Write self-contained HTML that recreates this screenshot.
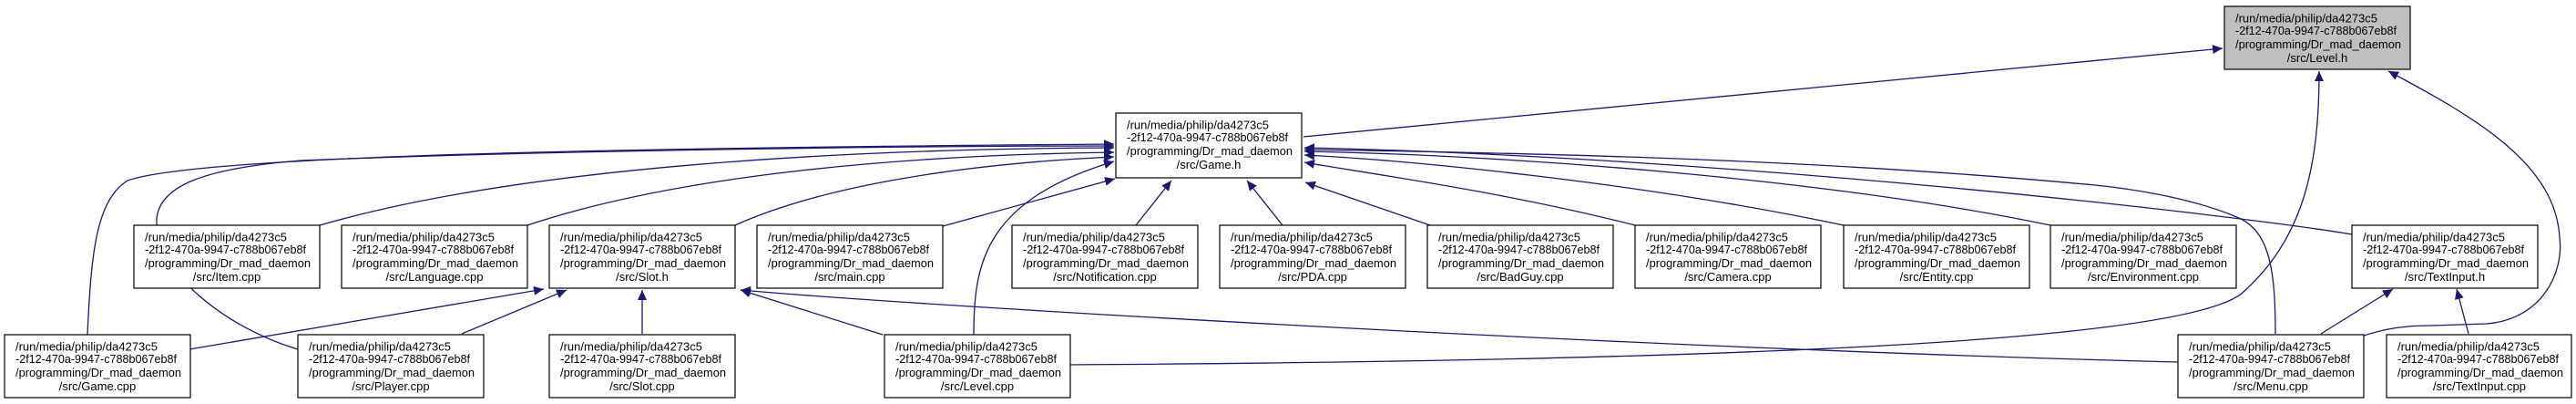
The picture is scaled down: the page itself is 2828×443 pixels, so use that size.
<!DOCTYPE html>
<html><head><meta charset="utf-8"><style>
html,body{margin:0;padding:0;background:#fff;}
svg{display:block;}
text{font-family:"Liberation Sans",sans-serif;font-size:13px;fill:#000;}
.e{fill:none;stroke:#191970;stroke-width:1.3;}
.b{fill:#fff;stroke:#000;stroke-width:1.2;}
</style></head><body>
<svg width="2828" height="443" viewBox="0 0 2828 443" xmlns="http://www.w3.org/2000/svg">
<defs>
<marker id="a" markerUnits="userSpaceOnUse" markerWidth="12" markerHeight="10" refX="11" refY="5" orient="auto">
<path d="M0,0 L11,5 L0,10 z" fill="#191970"/>
</marker>
</defs>
<g class="e" marker-end="url(#a)">
<path d="M351,247 C600,175 1000,163 1223,162"/>
<path d="M579,247 C750,190 1000,170 1223,167"/>
<path d="M807,247 C900,205 1050,180 1223,172"/>
<path d="M1035,248 L1224,196"/>
<path d="M1247,247 L1286,198"/>
<path d="M1408,247 L1369,198"/>
<path d="M1570,247 L1433,200"/>
<path d="M1795,247 C1650,210 1500,190 1432,178"/>
<path d="M2024,247 C1800,200 1550,176 1432,170"/>
<path d="M2251,247 C2000,195 1650,170 1432,166"/>
<path d="M2582,257 C2450,235 1900,172 1432,162"/>
<path d="M2498,366 C2498,290 2490,250 2453,237 C2400,215 2330,206 2300,203 C2000,175 1700,168 1432,164"/>
<path d="M1069,367 C1069,290 1080,220 1223,177"/>
<path d="M96,367 C100,280 105,220 140,198 C220,170 700,162 1223,158"/>
<path d="M327,383 C250,360 170,300 172,240 C175,205 220,185 330,176 C600,165 1000,160 1223,160"/>
<path d="M1431,150 L2440,53"/>
<path d="M208,383 L597,317"/>
<path d="M507,366 L622,318"/>
<path d="M705,366 L705,318"/>
<path d="M969,367 L813,318"/>
<path d="M2391,397 C1800,382 1000,335 813,318"/>
<path d="M2548,366 L2627,317"/>
<path d="M2710,366 L2697,317"/>
<path d="M1175,400 C1800,396 2400,380 2463,320 C2530,260 2546,180 2546,78"/>
<path d="M2595,368 C2620,360 2640,357 2670,357 L2730,355 C2790,350 2815,300 2810,260 C2805,180 2720,130 2622,78"/>
</g>

<rect x="2442" y="7" width="204" height="69" fill="#bfbfbf" stroke="#000" stroke-width="1.2"/>
<text x="2454" y="24.5" textLength="156" lengthAdjust="spacingAndGlyphs">/run/media/philip/da4273c5</text>
<text x="2454" y="38" textLength="177" lengthAdjust="spacingAndGlyphs">-2f12-470a-9947-c788b067eb8f</text>
<text x="2454" y="53" textLength="182" lengthAdjust="spacingAndGlyphs">/programming/Dr_mad_daemon</text>
<text x="2544" y="68" text-anchor="middle">/src/Level.h</text>

<rect class="b" x="1225" y="124" width="204" height="71"/>
<text x="1237" y="141.5" textLength="156" lengthAdjust="spacingAndGlyphs">/run/media/philip/da4273c5</text>
<text x="1237" y="155" textLength="177" lengthAdjust="spacingAndGlyphs">-2f12-470a-9947-c788b067eb8f</text>
<text x="1237" y="170" textLength="182" lengthAdjust="spacingAndGlyphs">/programming/Dr_mad_daemon</text>
<text x="1327" y="185" text-anchor="middle">/src/Game.h</text>

<g>
<rect class="b" x="147" y="247" width="204" height="69"/>
<text x="159" y="264.5" textLength="156" lengthAdjust="spacingAndGlyphs">/run/media/philip/da4273c5</text>
<text x="159" y="278" textLength="177" lengthAdjust="spacingAndGlyphs">-2f12-470a-9947-c788b067eb8f</text>
<text x="159" y="293" textLength="182" lengthAdjust="spacingAndGlyphs">/programming/Dr_mad_daemon</text>
<text x="249" y="308" text-anchor="middle">/src/Item.cpp</text>

<rect class="b" x="375" y="247" width="204" height="69"/>
<text x="387" y="264.5" textLength="156" lengthAdjust="spacingAndGlyphs">/run/media/philip/da4273c5</text>
<text x="387" y="278" textLength="177" lengthAdjust="spacingAndGlyphs">-2f12-470a-9947-c788b067eb8f</text>
<text x="387" y="293" textLength="182" lengthAdjust="spacingAndGlyphs">/programming/Dr_mad_daemon</text>
<text x="477" y="308" text-anchor="middle">/src/Language.cpp</text>

<rect class="b" x="603" y="247" width="204" height="69"/>
<text x="615" y="264.5" textLength="156" lengthAdjust="spacingAndGlyphs">/run/media/philip/da4273c5</text>
<text x="615" y="278" textLength="177" lengthAdjust="spacingAndGlyphs">-2f12-470a-9947-c788b067eb8f</text>
<text x="615" y="293" textLength="182" lengthAdjust="spacingAndGlyphs">/programming/Dr_mad_daemon</text>
<text x="705" y="308" text-anchor="middle">/src/Slot.h</text>

<rect class="b" x="831" y="247" width="204" height="69"/>
<text x="843" y="264.5" textLength="156" lengthAdjust="spacingAndGlyphs">/run/media/philip/da4273c5</text>
<text x="843" y="278" textLength="177" lengthAdjust="spacingAndGlyphs">-2f12-470a-9947-c788b067eb8f</text>
<text x="843" y="293" textLength="182" lengthAdjust="spacingAndGlyphs">/programming/Dr_mad_daemon</text>
<text x="933" y="308" text-anchor="middle">/src/main.cpp</text>

<rect class="b" x="1111" y="247" width="204" height="69"/>
<text x="1123" y="264.5" textLength="156" lengthAdjust="spacingAndGlyphs">/run/media/philip/da4273c5</text>
<text x="1123" y="278" textLength="177" lengthAdjust="spacingAndGlyphs">-2f12-470a-9947-c788b067eb8f</text>
<text x="1123" y="293" textLength="182" lengthAdjust="spacingAndGlyphs">/programming/Dr_mad_daemon</text>
<text x="1213" y="308" text-anchor="middle">/src/Notification.cpp</text>

<rect class="b" x="1339" y="247" width="204" height="69"/>
<text x="1351" y="264.5" textLength="156" lengthAdjust="spacingAndGlyphs">/run/media/philip/da4273c5</text>
<text x="1351" y="278" textLength="177" lengthAdjust="spacingAndGlyphs">-2f12-470a-9947-c788b067eb8f</text>
<text x="1351" y="293" textLength="182" lengthAdjust="spacingAndGlyphs">/programming/Dr_mad_daemon</text>
<text x="1441" y="308" text-anchor="middle">/src/PDA.cpp</text>

<rect class="b" x="1567" y="247" width="204" height="69"/>
<text x="1579" y="264.5" textLength="156" lengthAdjust="spacingAndGlyphs">/run/media/philip/da4273c5</text>
<text x="1579" y="278" textLength="177" lengthAdjust="spacingAndGlyphs">-2f12-470a-9947-c788b067eb8f</text>
<text x="1579" y="293" textLength="182" lengthAdjust="spacingAndGlyphs">/programming/Dr_mad_daemon</text>
<text x="1669" y="308" text-anchor="middle">/src/BadGuy.cpp</text>

<rect class="b" x="1795" y="247" width="204" height="69"/>
<text x="1807" y="264.5" textLength="156" lengthAdjust="spacingAndGlyphs">/run/media/philip/da4273c5</text>
<text x="1807" y="278" textLength="177" lengthAdjust="spacingAndGlyphs">-2f12-470a-9947-c788b067eb8f</text>
<text x="1807" y="293" textLength="182" lengthAdjust="spacingAndGlyphs">/programming/Dr_mad_daemon</text>
<text x="1897" y="308" text-anchor="middle">/src/Camera.cpp</text>

<rect class="b" x="2024" y="247" width="204" height="69"/>
<text x="2036" y="264.5" textLength="156" lengthAdjust="spacingAndGlyphs">/run/media/philip/da4273c5</text>
<text x="2036" y="278" textLength="177" lengthAdjust="spacingAndGlyphs">-2f12-470a-9947-c788b067eb8f</text>
<text x="2036" y="293" textLength="182" lengthAdjust="spacingAndGlyphs">/programming/Dr_mad_daemon</text>
<text x="2126" y="308" text-anchor="middle">/src/Entity.cpp</text>

<rect class="b" x="2251" y="247" width="204" height="69"/>
<text x="2263" y="264.5" textLength="156" lengthAdjust="spacingAndGlyphs">/run/media/philip/da4273c5</text>
<text x="2263" y="278" textLength="177" lengthAdjust="spacingAndGlyphs">-2f12-470a-9947-c788b067eb8f</text>
<text x="2263" y="293" textLength="182" lengthAdjust="spacingAndGlyphs">/programming/Dr_mad_daemon</text>
<text x="2353" y="308" text-anchor="middle">/src/Environment.cpp</text>

<rect class="b" x="2582" y="247" width="204" height="69"/>
<text x="2594" y="264.5" textLength="156" lengthAdjust="spacingAndGlyphs">/run/media/philip/da4273c5</text>
<text x="2594" y="278" textLength="177" lengthAdjust="spacingAndGlyphs">-2f12-470a-9947-c788b067eb8f</text>
<text x="2594" y="293" textLength="182" lengthAdjust="spacingAndGlyphs">/programming/Dr_mad_daemon</text>
<text x="2684" y="308" text-anchor="middle">/src/TextInput.h</text>
</g>

<g>
<rect class="b" x="5" y="367" width="204" height="69"/>
<text x="17" y="384.5" textLength="156" lengthAdjust="spacingAndGlyphs">/run/media/philip/da4273c5</text>
<text x="17" y="398" textLength="177" lengthAdjust="spacingAndGlyphs">-2f12-470a-9947-c788b067eb8f</text>
<text x="17" y="413" textLength="182" lengthAdjust="spacingAndGlyphs">/programming/Dr_mad_daemon</text>
<text x="107" y="428" text-anchor="middle">/src/Game.cpp</text>

<rect class="b" x="327" y="367" width="204" height="69"/>
<text x="339" y="384.5" textLength="156" lengthAdjust="spacingAndGlyphs">/run/media/philip/da4273c5</text>
<text x="339" y="398" textLength="177" lengthAdjust="spacingAndGlyphs">-2f12-470a-9947-c788b067eb8f</text>
<text x="339" y="413" textLength="182" lengthAdjust="spacingAndGlyphs">/programming/Dr_mad_daemon</text>
<text x="429" y="428" text-anchor="middle">/src/Player.cpp</text>

<rect class="b" x="603" y="367" width="204" height="69"/>
<text x="615" y="384.5" textLength="156" lengthAdjust="spacingAndGlyphs">/run/media/philip/da4273c5</text>
<text x="615" y="398" textLength="177" lengthAdjust="spacingAndGlyphs">-2f12-470a-9947-c788b067eb8f</text>
<text x="615" y="413" textLength="182" lengthAdjust="spacingAndGlyphs">/programming/Dr_mad_daemon</text>
<text x="705" y="428" text-anchor="middle">/src/Slot.cpp</text>

<rect class="b" x="971" y="367" width="204" height="69"/>
<text x="983" y="384.5" textLength="156" lengthAdjust="spacingAndGlyphs">/run/media/philip/da4273c5</text>
<text x="983" y="398" textLength="177" lengthAdjust="spacingAndGlyphs">-2f12-470a-9947-c788b067eb8f</text>
<text x="983" y="413" textLength="182" lengthAdjust="spacingAndGlyphs">/programming/Dr_mad_daemon</text>
<text x="1073" y="428" text-anchor="middle">/src/Level.cpp</text>

<rect class="b" x="2391" y="367" width="204" height="69"/>
<text x="2403" y="384.5" textLength="156" lengthAdjust="spacingAndGlyphs">/run/media/philip/da4273c5</text>
<text x="2403" y="398" textLength="177" lengthAdjust="spacingAndGlyphs">-2f12-470a-9947-c788b067eb8f</text>
<text x="2403" y="413" textLength="182" lengthAdjust="spacingAndGlyphs">/programming/Dr_mad_daemon</text>
<text x="2493" y="428" text-anchor="middle">/src/Menu.cpp</text>

<rect class="b" x="2620" y="367" width="203" height="69"/>
<text x="2632" y="384.5" textLength="156" lengthAdjust="spacingAndGlyphs">/run/media/philip/da4273c5</text>
<text x="2632" y="398" textLength="177" lengthAdjust="spacingAndGlyphs">-2f12-470a-9947-c788b067eb8f</text>
<text x="2632" y="413" textLength="182" lengthAdjust="spacingAndGlyphs">/programming/Dr_mad_daemon</text>
<text x="2722" y="428" text-anchor="middle">/src/TextInput.cpp</text>
</g>
</svg>
</body></html>
